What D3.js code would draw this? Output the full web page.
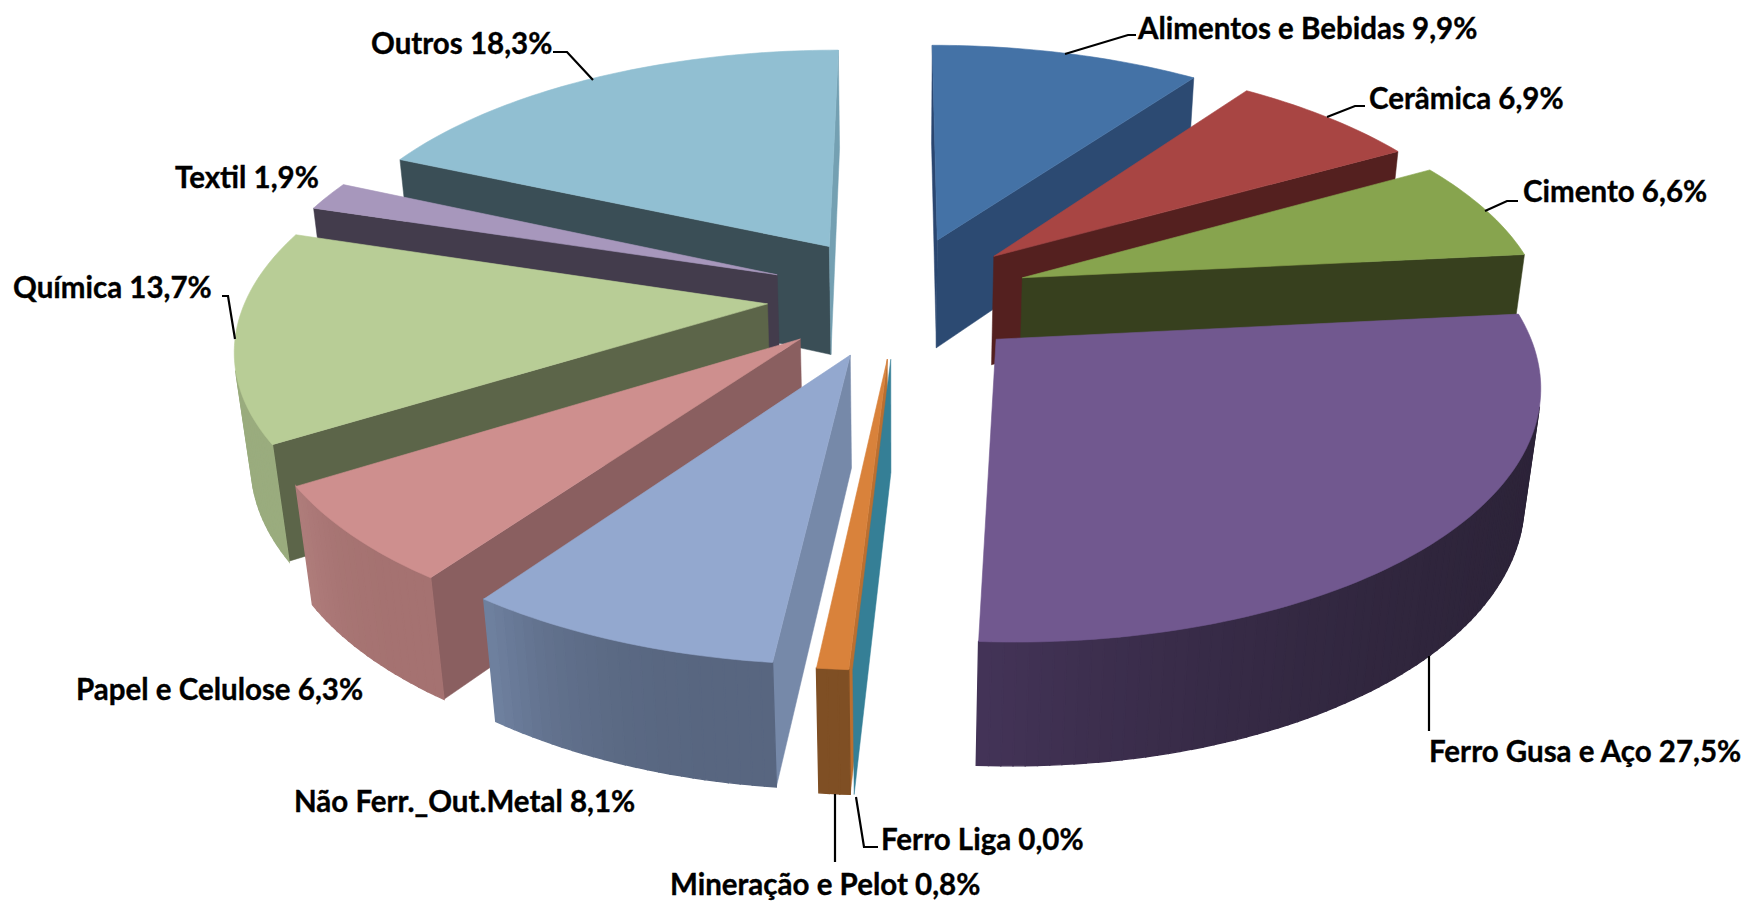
<!DOCTYPE html>
<html>
<head>
<meta charset="utf-8">
<script src="https://cdnjs.cloudflare.com/ajax/libs/d3/7.8.5/d3.min.js"></script>
<style>
  html, body { margin: 0; padding: 0; background: #fff; }
  svg { display: block; }
  .lbl { font-family: Lato, "Open Sans", sans-serif; font-weight: 700; font-size: 29.5px; fill: #000; stroke: #000; stroke-width: 0.35px; }
  .leader { fill: none; stroke: #000; stroke-width: 2.2px; }
</style>
</head>
<body>
<div id="chart"></div>
<script>
// data
const categories = ["Alimentos e Bebidas", "Cerâmica", "Cimento", "Ferro Gusa e Aço", "Ferro Liga",
  "Mineração e Pelot", "Não Ferr._Out.Metal", "Papel e Celulose", "Química", "Textil", "Outros"];
const shares = [9.9, 6.9, 6.6, 27.5, 0.0, 0.8, 8.1, 6.3, 13.7, 1.9, 18.3];

// colours, one entry per category
const topColors = ["#4472a6", "#a84543", "#87a44e", "#71588f", "#4198af", "#d9823b", "#93a8cf", "#ce8f8e", "#b8cd96", "#a797bc", "#91bfd2"];
const startWall = ["#2a4670", "#54201f", "#37401e", "#2c2338", "#357f96", "#bb6f30", "#7689a9", "#8a5f60", "#5c6549", "#433c4c", "#3a4e56"];
const endWall   = ["#2c4a72", "#54201f", "#37401e", "#443458", "#357f96", "#bb6f30", "#7689a9", "#8a5f60", "#5c6549", "#433c4c", "#74a0b2"];
const outerFrom = ["#2c4a72", "#54201f", "#37401e", "#2c2338", "#357f96", "#7f4f24", "#586680", "#a57271", "#9aac7e", "#433c4c", "#3a4e56"];
const outerTo   = ["#2c4a72", "#54201f", "#37401e", "#443458", "#357f96", "#7f4f24", "#7183a2", "#b07e7c", "#a3b587", "#433c4c", "#3a4e56"];

// label layout: x, y of text start, then the leader line
const labelAt = [[1138, 39], [1369, 109], [1523, 202], [1429, 762], [881, 850], [670, 895], [294, 812], [76, 700], [13, 298], [175, 188], [371, 54]];
const leaders = [
  [[1065, 54], [1128, 35], [1136, 35]],
  [[1327, 117], [1355, 106], [1365, 106]],
  [[1485, 211], [1507, 201], [1518, 201]],
  [[1429, 656], [1429, 731]],
  [[856, 797], [864, 847], [878, 847]],
  [[835, 794], [835, 862]],
  [], [],
  [[222, 296], [228, 296], [235, 339]],
  [],
  [[553, 52], [567, 52], [593, 80]]
];

const width = 1744, height = 901;
const explode = 0.2525, persp = 0.155, depth = 113, sink = 0.025;

// the unit disc in plane coordinates, before perspective
const xScale = d3.scaleLinear().domain([-1, 1]).range([898.5 - 520.5, 898.5 + 520.5]);
const yScale = d3.scaleLinear().domain([-1, 1]).range([296 - 241, 296 + 241]);

const project = (X, Y, d) => {
  const w = 1 - persp * Y + sink * d;
  return [xScale(X / w), yScale(Y / w) + depth * d / (1 - persp * Y) / (1 + sink * d / (1 - persp * Y))];
};

const pie = d3.pie().value(d => d).sort(null);
const arcs = pie(shares);

const svg = d3.select("#chart").append("svg").attr("width", width).attr("height", height);
const line = d3.line();

// back slices first
const order = arcs.map((a, i) => i).sort((a, b) => {
  const ma = (arcs[a].startAngle + arcs[a].endAngle) / 2, mb = (arcs[b].startAngle + arcs[b].endAngle) / 2;
  return d3.descending(Math.cos(ma), Math.cos(mb)) || a - b;
});

order.forEach(i => {
  const a = arcs[i], mid = (a.startAngle + a.endAngle) / 2;
  const ox = explode * Math.sin(mid), oy = -explode * Math.cos(mid);
  const rim = t => [ox + Math.sin(t), oy - Math.cos(t)];
  const g = svg.append("g").attr("class", "slice").attr("data-name", categories[i]);

  const face = (pts, col, sw) => {
    // polygonArea is positive when the ring runs the way the front faces do
    if (d3.polygonArea(pts) <= 0) return;
    g.append("path").attr("d", line(pts) + "Z").attr("fill", col).attr("stroke", col).attr("stroke-width", sw);
  };

  const s = rim(a.startAngle), e = rim(a.endAngle);
  // radial walls
  face([project(ox, oy, 0), project(s[0], s[1], 0), project(s[0], s[1], 1), project(ox, oy, 1)], startWall[i], 0.5);
  face([project(e[0], e[1], 0), project(ox, oy, 0), project(ox, oy, 1), project(e[0], e[1], 1)], endWall[i], 0.5);

  // outer wall as thin strips
  const n = Math.max(1, Math.ceil((a.endAngle - a.startAngle) / 0.02));
  const tone = d3.interpolateRgb(outerFrom[i], outerTo[i]);
  d3.range(n).forEach(k => {
    const t0 = a.startAngle + (a.endAngle - a.startAngle) * k / n;
    const t1 = a.startAngle + (a.endAngle - a.startAngle) * (k + 1) / n;
    const p0 = rim(t0), p1 = rim(t1);
    face([project(p0[0], p0[1], 0), project(p1[0], p1[1], 0), project(p1[0], p1[1], 1), project(p0[0], p0[1], 1)], tone(Math.pow(k / n, 3)), 1.4);
  });

  // top
  const ring = [project(ox, oy, 0)];
  d3.range(n + 1).forEach(k => {
    const p = rim(a.startAngle + (a.endAngle - a.startAngle) * k / n);
    ring.push(project(p[0], p[1], 0));
  });
  if (a.endAngle > a.startAngle)
    g.append("path").attr("d", line(ring) + "Z").attr("fill", topColors[i]).attr("stroke", topColors[i]).attr("stroke-width", 0.6);
});

// leaders and labels
svg.append("g").selectAll("path").data(leaders.filter(l => l.length)).join("path")
  .attr("class", "leader").attr("d", d => line(d));

svg.append("g").selectAll("text").data(categories).join("text")
  .attr("class", "lbl")
  .attr("x", (d, i) => labelAt[i][0])
  .attr("y", (d, i) => labelAt[i][1])
  .text((d, i) => d + " " + shares[i].toFixed(1).replace(".", ",") + "%");
</script>
</body>
</html>
